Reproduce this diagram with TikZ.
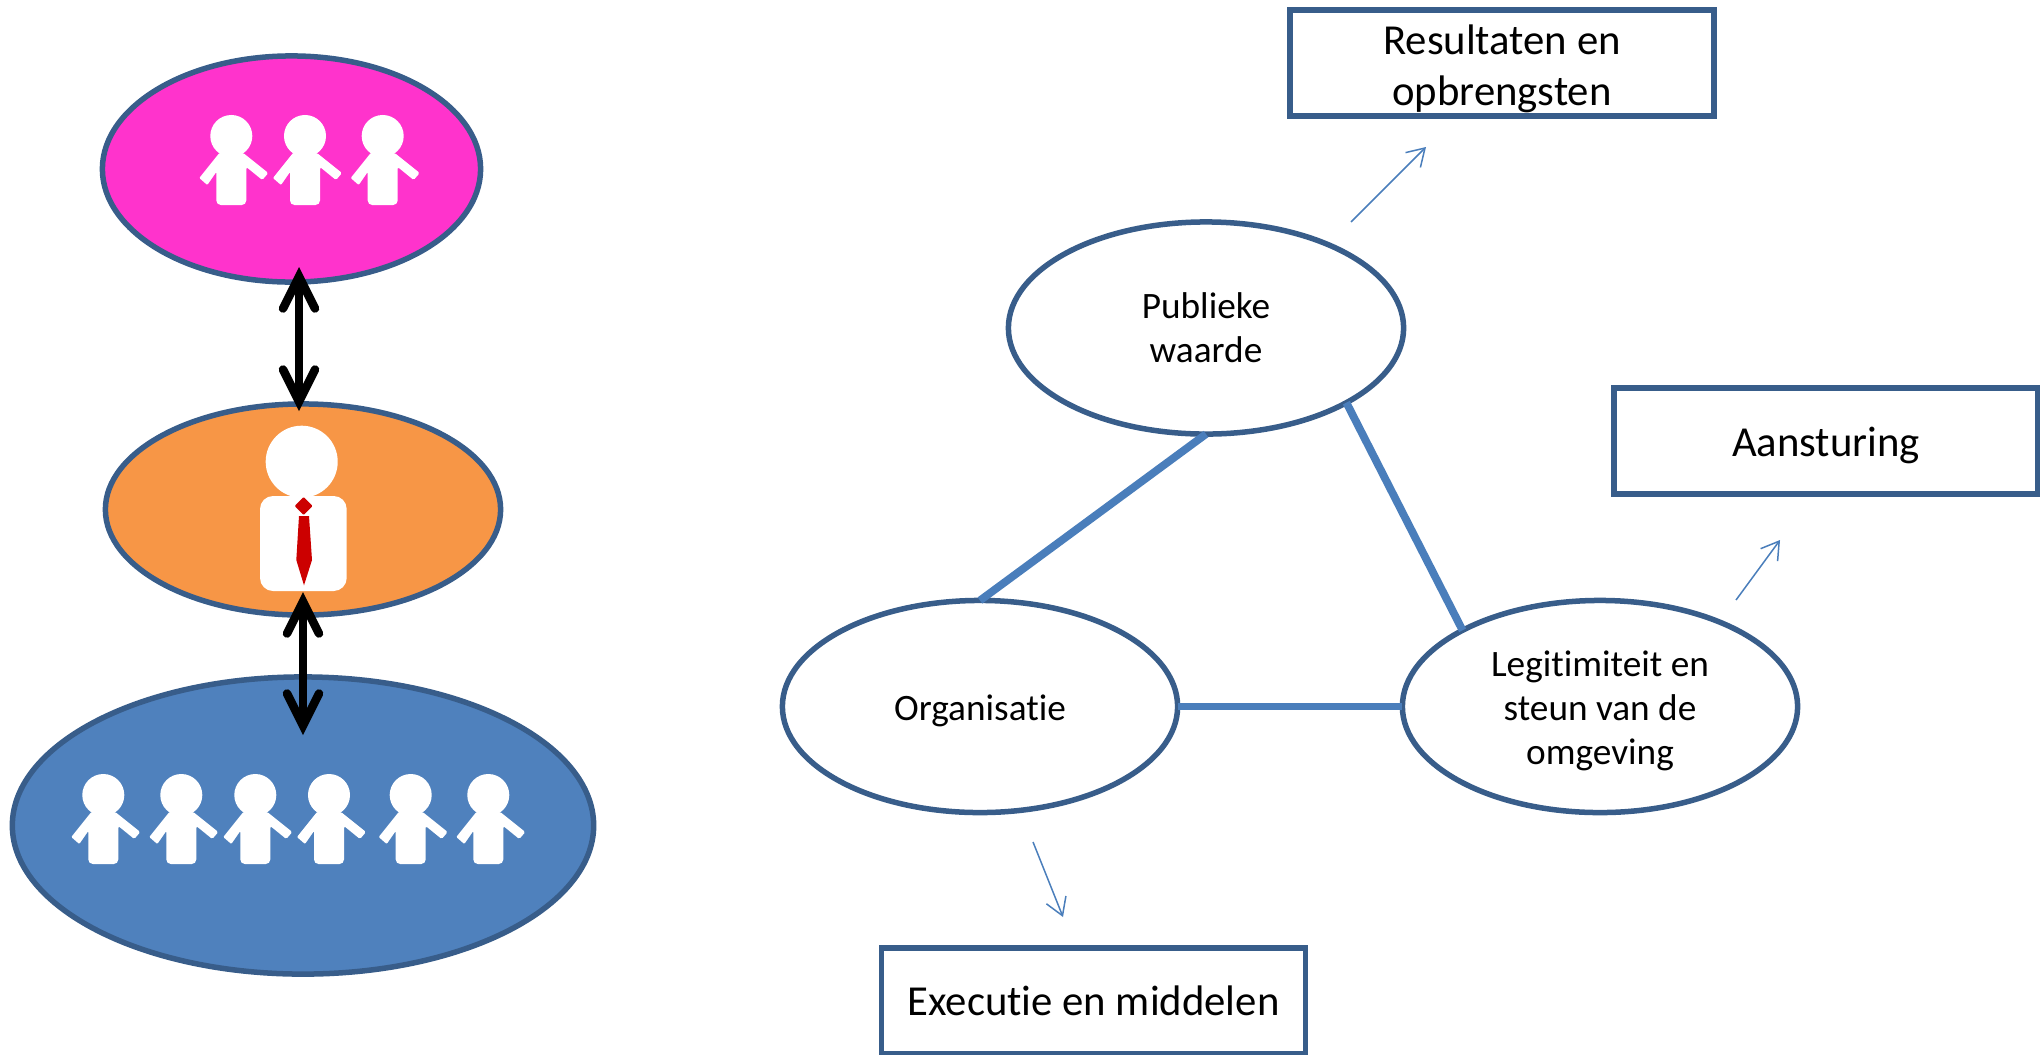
\documentclass[tikz,border=0pt]{standalone}
\usepackage{fontspec}
\setmainfont{Carlito}[Ligatures=NoCommon]
\usetikzlibrary{arrows.meta,shapes.geometric}
\definecolor{rim}{HTML}{385D8A}
\definecolor{accent}{HTML}{4F81BD}
\definecolor{linkblue}{HTML}{4A7EBB}
\definecolor{pinkfill}{HTML}{FF33CC}
\definecolor{orangefill}{HTML}{F79646}
\definecolor{tiered}{HTML}{CC0000}
\newcommand{\lift}[1]{\rule{0pt}{#1}}
\tikzset{
    group/.style={ellipse, draw=rim, line width=0.55mm, inner sep=0pt, outer sep=0pt},
    blob/.style={group, fill=white, minimum width=3.95cm, minimum height=2.12cm, align=center,
        font=\fontsize{10.6}{12.6}\selectfont},
    result/.style={draw=rim, line width=0.55mm, fill=white, inner sep=0pt, outer sep=0pt,
        minimum width=4.24cm, minimum height=1.06cm, align=center,
        font=\fontsize{12.15}{14.5}\selectfont},
    side/.style={linkblue, line width=0.78mm},
    duty/.style={linkblue, line width=0.15mm, -{Straight Barb[length=1.7mm, width=2.1mm]}},
    link/.style={black, line width=0.85mm,
        {Straight Barb[length=3.2mm, width=3.2mm, line cap=round, line join=miter]}-{Straight Barb[length=3.2mm, width=3.2mm, line cap=round, line join=miter]}},
    person/.pic={
        \fill[white] (0,0) circle (0.21cm);
        \fill[white, rounded corners=0.15mm] (-12,17) -- (12,17) -- (37,37) -- (31,44) -- (15,31)
            [rounded corners=0.45mm] -- (15,69) -- (-15,69) [rounded corners=0.1mm] -- (-15,36)
            -- (-24,49) -- (-32,42) -- cycle;
    }
}
\begin{document}
\begin{tikzpicture}[x=0.01cm, y=-0.01cm]
    \useasboundingbox (0,0) rectangle (2040,1054);
    % left column
    \node[group, fill=pinkfill, minimum width=3.78cm, minimum height=2.26cm] (top) at (291.5,169) {};
    \node[group, fill=orangefill, minimum width=3.95cm, minimum height=2.11cm] (lead) at (303,509.5) {};
    \node[group, fill=accent, minimum width=5.81cm, minimum height=2.97cm] (base) at (303,825.5) {};
    \pic at (231.3,136) {person};
    \pic at (305,136) {person};
    \pic at (382.7,136) {person};
    \fill[white] (301.7,461.7) circle (0.36cm);
    \fill[white, rounded corners=1.3mm] (260,496) rectangle (346.7,591);
    \fill[tiered, rounded corners=0.1mm] (303.7,497) -- (312.7,506) -- (303.7,515) -- (294.7,506) -- cycle;
    \fill[tiered] (299,516) -- (309,516) -- (312,560) -- (304,585.3) -- (296.3,560) -- cycle;
    \pic at (103.3,795) {person};
    \pic at (181.3,795) {person};
    \pic at (255.3,795) {person};
    \pic at (329,795) {person};
    \pic at (410.7,795) {person};
    \pic at (488.3,795) {person};
    \coordinate (topend) at (299,267);
    \coordinate (leadend) at (299,411);
    \coordinate (leadfoot) at (303,592);
    \coordinate (baseend) at (303,735);
    \draw[link] (topend) -- (leadend);
    \draw[link] (leadfoot) -- (baseend);
    % right triangle
    \node[blob] (waarde) at (1206,328) {Publieke\\waarde};
    \node[blob] (organisatie) at (980,706.5) {\lift{9.6pt}Organisatie};
    \node[blob] (omgeving) at (1600,706.5) {\lift{9.8pt}Legitimiteit en\\steun van de\\omgeving};
    \draw[side] (waarde.south) -- (organisatie.north);
    \draw[side] (waarde.-28.7) -- (omgeving.151.3);
    \draw[side] (organisatie.east) -- (omgeving.west);
    \node[result] (resultaten) at (1502,63) {\lift{11.6pt}Resultaten en\\opbrengsten};
    \node[result] (aansturing) at (1826,441) {\lift{11pt}Aansturing};
    \node[result] (executie) at (1093.5,1001) {Executie en middelen};
    \coordinate (a1) at (1351,222);
    \coordinate (a2) at (1426,147);
    \coordinate (b1) at (1736,600);
    \coordinate (b2) at (1780,540);
    \coordinate (c1) at (1033,842);
    \coordinate (c2) at (1063,917);
    \draw[duty] (a1) -- (a2);
    \draw[duty] (b1) -- (b2);
    \draw[duty] (c1) -- (c2);
\end{tikzpicture}
\end{document}
